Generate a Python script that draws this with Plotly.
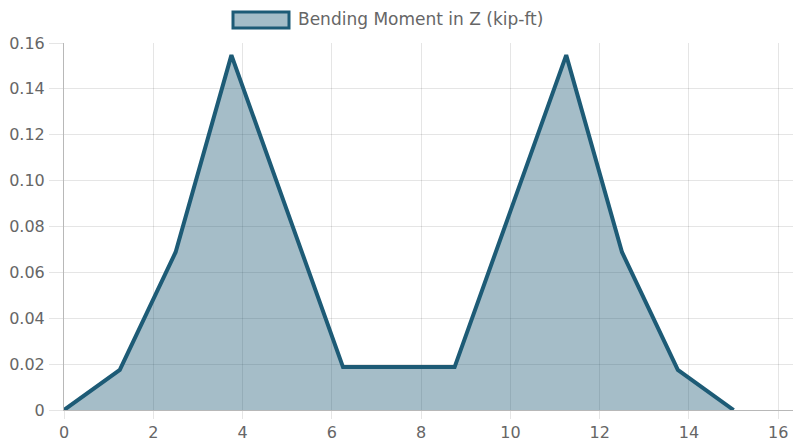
import plotly.graph_objects as go

# Data
x_ft = [0, 1.25, 2.5, 3.75, 5, 6.25, 7.5, 8.75, 10, 11.25, 12.5, 13.75, 15]
moment_z = [0, 0.0175, 0.0688, 0.1547, 0.0867, 0.0187, 0.0187, 0.0187, 0.0867, 0.1547, 0.0688, 0.0175, 0]
x_ticks = [0, 2, 4, 6, 8, 10, 12, 14, 16]
y_ticks = [0, 0.02, 0.04, 0.06, 0.08, 0.10, 0.12, 0.14, 0.16]
y_tick_labels = ["0", "0.02", "0.04", "0.06", "0.08", "0.10", "0.12", "0.14", "0.16"]
series_name = "Bending Moment in Z (kip-ft)"

W, H = 795, 443
L, R, T, B = 64, 2, 43, 33
line_color = "#1d5b76"
fill_color = "rgba(29,91,118,0.4)"
grid = "rgba(0,0,0,0.1)"
font_fam = "DejaVu Sans, Liberation Sans, sans-serif"
txt = "#666666"

fig = go.Figure()
fig.add_trace(go.Scatter(
    x=x_ft, y=moment_z, mode="lines", fill="tozeroy",
    line=dict(color=line_color, width=4), fillcolor=fill_color,
    name=series_name, showlegend=False, hoverinfo="x+y",
))

pw = W - L - R
ph = H - T - B
def px2x(px):
    return (px - L) / pw
def py2y(py):
    return (H - B - py) / ph

fig.add_shape(type="rect", xref="paper", yref="paper",
              x0=px2x(233), x1=px2x(289), y0=py2y(28), y1=py2y(12),
              line=dict(color=line_color, width=3), fillcolor="rgb(164,189,200)")
fig.add_annotation(xref="paper", yref="paper", x=px2x(296), y=py2y(19),
                   xanchor="left", yanchor="middle", showarrow=False,
                   text=series_name, font=dict(family=font_fam, size=17, color=txt))

fig.update_layout(
    width=W, height=H,
    margin=dict(l=L, r=R, t=T, b=B, autoexpand=False),
    paper_bgcolor="white", plot_bgcolor="white",
    font=dict(family=font_fam, size=16, color=txt),
    xaxis=dict(range=[0, 16.33], tickvals=x_ticks, showgrid=True, gridcolor=grid,
               zeroline=False, showline=True, linecolor="rgba(0,0,0,0.28)", linewidth=1,
               ticks="outside", ticklen=8, tickcolor=grid, ticklabelstandoff=0,
               automargin=False, tickfont=dict(size=16, color=txt)),
    yaxis=dict(range=[0, 0.16], tickvals=y_ticks, ticktext=y_tick_labels, showgrid=True,
               gridcolor=grid, zeroline=False, showline=True, linecolor="rgba(0,0,0,0.28)",
               linewidth=1, ticks="outside", ticklen=14, tickcolor=grid, ticklabelstandoff=1,
               automargin=False, tickfont=dict(size=16, color=txt)),
)
fig.write_html("out.html", config={"displayModeBar": False},
               post_script="document.body.style.margin='0';")
